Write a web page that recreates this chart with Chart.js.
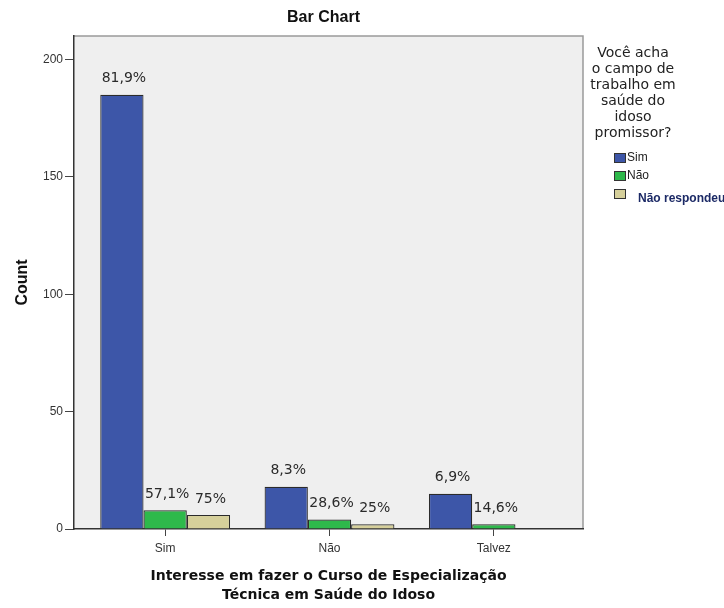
<!DOCTYPE html>
<html>
<head>
<meta charset="utf-8">
<script src="https://cdn.jsdelivr.net/npm/chart.js@4"></script>
<style>
  html, body { margin: 0; padding: 0; background: #fff; }
  #wrap { width: 724px; height: 608px; position: relative; }
</style>
</head>
<body>
<div id="wrap"><canvas id="bar_chart"></canvas></div>
<script>
const categories = ['Sim', 'Não', 'Talvez'];
const seriesNames = ['Sim', 'Não', 'Não respondeu'];
const simCounts = [185, 18, 15];
const naoCounts = [8, 4, 2];
const naoRespCounts = [6, 2, null];
const simLabels = ['81,9%', '8,3%', '6,9%'];
const naoLabels = ['57,1%', '28,6%', '14,6%'];
const naoRespLabels = ['75%', '25%', ''];
const yTicks = [0, 50, 100, 150, 200];
const legendTitle = ['Você acha', 'o campo de', 'trabalho em', 'saúde do', 'idoso', 'promissor?'];

const colors = ['#3D56A8', '#2EB94B', '#D6D09B'];

// plot background + frame, chart title centred over the plot
const plotBack = {
    id: 'plotBack',
    afterLayout(chart) {
        // SPSS leaves a little room at both ends of the category axis
        const x = chart.scales.x;
        x._startPixel = x.left + 9;
        x._endPixel = x.right - 7;
        x._length = x._endPixel - x._startPixel;
    },
    beforeDraw(chart) {
        const { ctx, chartArea: a } = chart;
        ctx.save();
        ctx.fillStyle = '#EFEFEF';
        ctx.fillRect(a.left, a.top, a.right - a.left, a.bottom - a.top);
        ctx.strokeStyle = '#9A9A9A';
        ctx.lineWidth = 1.5;
        ctx.beginPath();
        ctx.moveTo(a.left, a.top);
        ctx.lineTo(a.right, a.top);
        ctx.lineTo(a.right, a.bottom);
        ctx.stroke();
        ctx.fillStyle = '#111';
        ctx.font = 'bold 16px "Liberation Sans", Arial';
        ctx.textAlign = 'center';
        ctx.textBaseline = 'middle';
        ctx.fillText('Bar Chart', (a.left + a.right) / 2 - 5, 18);
        ctx.restore();
    }
};

// percentage labels above the bars
const barLabels = {
    id: 'barLabels',
    afterDatasetsDraw(chart) {
        const { ctx } = chart;
        ctx.save();
        ctx.font = '14px "DejaVu Sans"';
        ctx.fillStyle = '#2a2a2a';
        ctx.textAlign = 'center';
        ctx.textBaseline = 'middle';
        chart.data.datasets.forEach((ds, i) => {
            chart.getDatasetMeta(i).data.forEach((bar, j) => {
                const txt = ds.pctLabels[j];
                if (!txt || ds.data[j] == null) return;
                ctx.fillText(txt, bar.x + 2, bar.y - 16);
            });
        });
        ctx.restore();
    }
};

// legend on the right with multi-line title
const sideLegend = {
    id: 'sideLegend',
    afterDraw(chart) {
        const { ctx } = chart;
        ctx.save();
        ctx.fillStyle = '#222';
        ctx.textAlign = 'center';
        ctx.textBaseline = 'middle';
        ctx.font = '14px "DejaVu Sans"';
        legendTitle.forEach((line, i) => {
            ctx.fillText(line, 633, 53 + i * 16);
        });
        chart.data.datasets.forEach((ds, i) => {
            const y = 153 + i * 18;
            ctx.fillStyle = ds.backgroundColor;
            ctx.fillRect(614, y, 12, 10);
            ctx.strokeStyle = '#333';
            ctx.lineWidth = 1;
            ctx.strokeRect(614.5, y + 0.5, 11, 9);
            ctx.textAlign = 'left';
            if (i < 2) {
                ctx.fillStyle = '#222';
                ctx.font = '12px "Liberation Sans", Arial';
                ctx.fillText(ds.label, 627, y + 5);
            } else {
                ctx.fillStyle = '#1c2a66';
                ctx.font = 'bold 12px "Liberation Sans", Arial';
                ctx.fillText(ds.label, 638, y + 10);
            }
        });
        ctx.restore();
    }
};

new Chart(document.getElementById('bar_chart'), {
    type: 'bar',
    data: {
        labels: categories,
        datasets: [
            { label: seriesNames[0], data: simCounts, pctLabels: simLabels, backgroundColor: colors[0] },
            { label: seriesNames[1], data: naoCounts, pctLabels: naoLabels, backgroundColor: colors[1] },
            { label: seriesNames[2], data: naoRespCounts, pctLabels: naoRespLabels, backgroundColor: colors[2] }
        ]
    },
    options: {
        responsive: true,
        maintainAspectRatio: false,
        animation: false,
        layout: { padding: { left: 0, right: 141, top: 36, bottom: 0 } },
        datasets: {
            bar: {
                borderColor: '#2b2b2b',
                borderWidth: 1.2,
                categoryPercentage: 0.79,
                barPercentage: 1.0
            }
        },
        plugins: {
            legend: { display: false },
            tooltip: { enabled: false },
            title: { display: false }
        },
        scales: {
            x: {
                grid: { display: true, drawOnChartArea: false, offset: false, tickLength: 7, color: '#444' },
                border: { display: true, color: '#333', width: 1.5 },
                ticks: { color: '#333', font: { family: '"Liberation Sans", Arial', size: 12 }, padding: 5 },
                title: {
                    display: true,
                    text: ['Interesse em fazer o Curso de Especialização', 'Técnica em Saúde do Idoso'],
                    color: '#111',
                    font: { family: '"DejaVu Sans"', size: 14, weight: 'bold', lineHeight: 1.3 },
                    padding: { top: 4, bottom: 4 }
                },
                afterFit(scale) { scale.height = 79; }
            },
            y: {
                min: 0,
                max: 210,
                afterBuildTicks(scale) { scale.ticks = yTicks.map(v => ({ value: v })); },
                grid: { display: true, drawOnChartArea: false, tickLength: 9, color: '#444' },
                border: { display: true, color: '#333', width: 1.5 },
                ticks: { color: '#333', font: { family: '"Liberation Sans", Arial', size: 12 }, padding: 2 },
                title: {
                    display: true,
                    text: 'Count',
                    color: '#111',
                    font: { family: '"Liberation Sans", Arial', size: 16, weight: 'bold', lineHeight: 1.2 },
                    padding: { top: 13, bottom: 0 }
                },
                afterFit(scale) { scale.width = 74; }
            }
        }
    },
    plugins: [plotBack, barLabels, sideLegend]
});
</script>
</body>
</html>
